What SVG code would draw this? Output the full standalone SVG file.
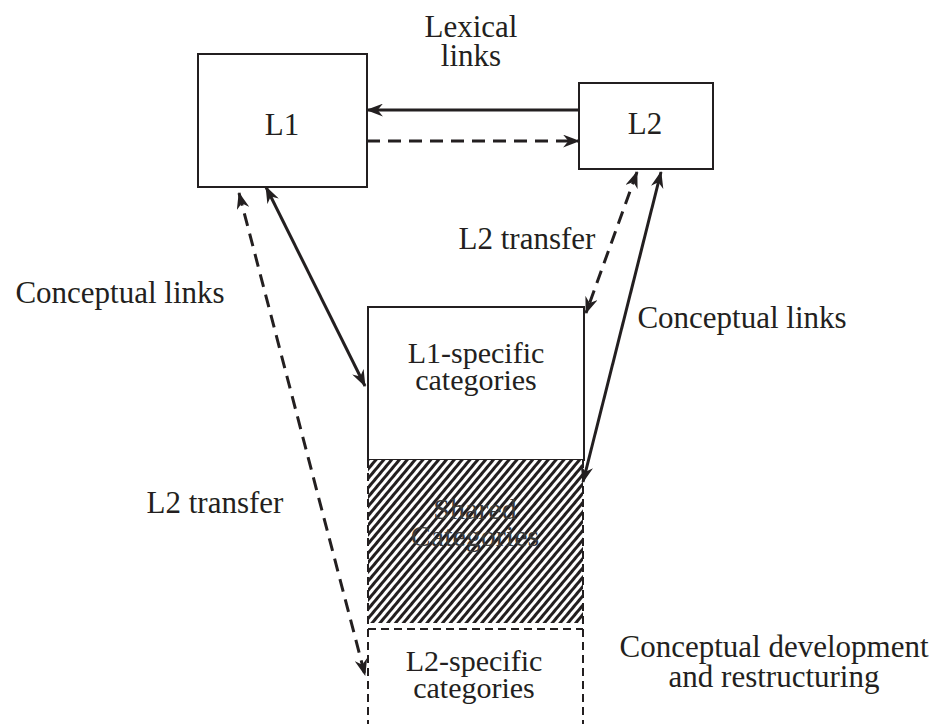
<svg xmlns="http://www.w3.org/2000/svg" width="938" height="724" viewBox="0 0 938 724">
<style>
text{font-family:"Liberation Serif","Times New Roman",serif;font-size:31px;fill:#231f20;text-anchor:middle}
.two{font-size:30px}
.box{fill:#fff;stroke:#231f20;stroke-width:2}
.dbox{fill:none;stroke:#231f20;stroke-width:2;stroke-dasharray:8 5}
.solid{fill:none;stroke:#231f20;stroke-width:3}
.dash{fill:none;stroke:#231f20;stroke-width:3;stroke-dasharray:13 8}
</style>
<defs>
<marker id="ah" viewBox="0 0 16 12" refX="15" refY="6" markerWidth="17" markerHeight="13" markerUnits="userSpaceOnUse" orient="auto-start-reverse">
<path d="M0,0 L16,6 L0,12 L5,6 z" fill="#231f20"/>
</marker>
<pattern id="hatch" patternUnits="userSpaceOnUse" width="6" height="6" patternTransform="rotate(40)">
<rect width="6" height="6" fill="#fff"/>
<rect x="0" y="0" width="3" height="6" fill="#231f20"/>
</pattern>
</defs>
<rect width="938" height="724" fill="#fff"/>

<g id="L1">
<rect class="box" x="198" y="54" width="169" height="133"/>
<text x="282" y="135">L1</text>
</g>
<g id="L2">
<rect class="box" x="579" y="83" width="134" height="86"/>
<text x="645" y="134">L2</text>
</g>
<g id="L1-specific">
<rect class="box" x="368" y="307" width="216" height="153"/>
<text class="two" x="476" y="363">L1-specific<tspan x="476" dy="27">categories</tspan></text>
</g>
<g id="shared">
<rect x="368" y="460" width="215" height="163" fill="url(#hatch)"/>
<text class="two" x="475" y="519" style="fill:#3a3a3a">Shared<tspan x="475" dy="27">Categories</tspan></text>
</g>
<g id="L2-specific">
<path class="dbox" d="M368,460 V724 M583,460 V724 M368,629 H583"/>
<text class="two" x="474" y="671">L2-specific<tspan x="474" dy="27">categories</tspan></text>
</g>

<g id="connectors">
<line class="solid" x1="579" y1="110" x2="367" y2="110" marker-end="url(#ah)"/>
<line class="dash" x1="367" y1="141" x2="579" y2="141" marker-end="url(#ah)"/>
<line class="solid" x1="266" y1="187" x2="365" y2="386" marker-start="url(#ah)" marker-end="url(#ah)"/>
<line class="dash" x1="239" y1="193" x2="365" y2="675" marker-start="url(#ah)" marker-end="url(#ah)"/>
<line class="dash" x1="637" y1="172" x2="586" y2="313" marker-start="url(#ah)" marker-end="url(#ah)"/>
<line class="solid" x1="661" y1="172" x2="583" y2="482" marker-start="url(#ah)" marker-end="url(#ah)"/>
</g>

<g id="labels">
<text x="471" y="37">Lexical<tspan x="471" dy="29">links</tspan></text>
<text x="120" y="303">Conceptual links</text>
<text x="527" y="249">L2 transfer</text>
<text x="742" y="328">Conceptual links</text>
<text x="215" y="513">L2 transfer</text>
<text x="774" y="657">Conceptual development<tspan x="774" dy="30">and restructuring</tspan></text>
</g>
</svg>
